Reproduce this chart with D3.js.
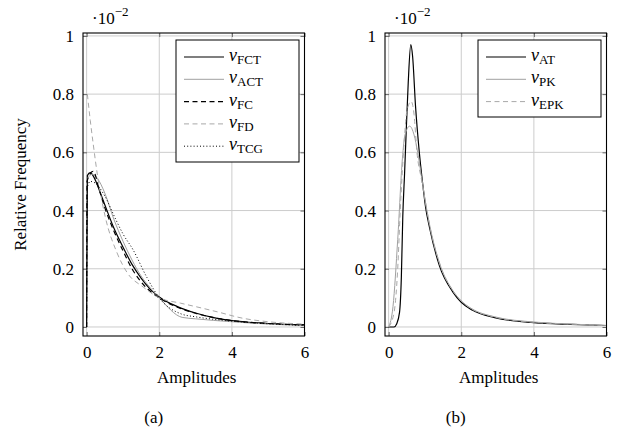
<!DOCTYPE html>
<html>
<head>
<meta charset="utf-8">
<script src="https://cdn.jsdelivr.net/npm/d3@7"></script>
<style>
  body { margin: 0; background: #fff; }
</style>
</head>
<body>
<svg id="container"></svg>
<script>
/* CONSTANTS AND GLOBALS */
const width = 618,
  height = 430,
  serif = "'Liberation Serif', 'Times New Roman', Times, serif";

/* DATA (relative frequency, in units of 10^-2) */
// panel (a)
const fctX = [0, 0.02, 0.1, 0.2, 0.35, 0.5, 0.75, 1.0, 1.25, 1.5, 1.75, 2.0, 2.5, 3.0, 3.5, 4.0, 5.0, 6.0];
const fctY = [0, 0.52, 0.53, 0.515, 0.47, 0.42, 0.34, 0.275, 0.215, 0.168, 0.13, 0.103, 0.07, 0.048, 0.032, 0.022, 0.012, 0.007];

const actX = [0.02, 0.15, 0.3, 0.5, 0.75, 1.0, 1.25, 1.5, 1.75, 2.0, 2.63, 3.0, 4.0, 5.0, 6.0];
const actY = [0.51, 0.525, 0.51, 0.46, 0.37, 0.295, 0.23, 0.175, 0.135, 0.1, 0.033, 0.028, 0.018, 0.01, 0.005];

const fcX = [0, 0.01, 0.18, 0.35, 0.5, 0.75, 1.0, 1.25, 1.5, 2.0, 2.5, 3.0, 4.0, 5.0, 6.0];
const fcY = [0, 0.5, 0.535, 0.47, 0.41, 0.33, 0.262, 0.2, 0.155, 0.1, 0.068, 0.047, 0.022, 0.012, 0.007];

const fdX = [0.02, 0.1, 0.18, 0.3, 0.51, 0.84, 1.12, 1.56, 2.0, 2.58, 3.0, 3.6, 4.3, 5.0, 6.0];
const fdY = [0.8, 0.71, 0.63, 0.52, 0.38, 0.254, 0.186, 0.137, 0.1, 0.082, 0.07, 0.052, 0.03, 0.018, 0.01];

const tcgX = [0, 0.02, 0.1, 0.23, 0.5, 0.8, 1.0, 1.28, 1.66, 2.0, 2.6, 3.0, 3.6, 4.5, 6.0];
const tcgY = [0, 0.48, 0.5, 0.495, 0.45, 0.37, 0.32, 0.265, 0.17, 0.1, 0.045, 0.035, 0.025, 0.015, 0.005];

// panel (b)
const atX = [0, 0.15, 0.22, 0.3, 0.35, 0.39, 0.44, 0.48, 0.54, 0.61, 0.66, 0.74, 0.845, 0.94, 1.02, 1.13, 1.4, 1.77, 2.0, 2.3, 2.92, 4.0, 5.0, 6.0];
const atY = [0, 0, 0.01, 0.05, 0.17, 0.38, 0.53, 0.66, 0.84, 0.97, 0.93, 0.76, 0.6, 0.49, 0.41, 0.34, 0.21, 0.12, 0.085, 0.058, 0.032, 0.015, 0.009, 0.005];

const pkX = [0, 0.12, 0.25, 0.38, 0.45, 0.58, 0.7, 0.8, 0.9, 1.0, 1.13, 1.4, 1.77, 2.0, 2.3, 2.92, 4.0, 5.0, 6.0];
const pkY = [0, 0.07, 0.3, 0.58, 0.66, 0.69, 0.66, 0.6, 0.52, 0.44, 0.35, 0.22, 0.125, 0.09, 0.062, 0.035, 0.017, 0.01, 0.005];

const epkX = [0, 0.15, 0.25, 0.32, 0.42, 0.5, 0.62, 0.7, 0.78, 0.9, 1.0, 1.13, 1.4, 1.77, 2.0, 2.3, 2.92, 4.0, 5.0, 6.0];
const epkY = [0, 0.05, 0.2, 0.4, 0.62, 0.74, 0.775, 0.73, 0.6, 0.51, 0.44, 0.35, 0.22, 0.124, 0.089, 0.061, 0.034, 0.016, 0.01, 0.005];

const xTicks = [0, 2, 4, 6];
const yTicks = [0, 0.2, 0.4, 0.6, 0.8, 1];

const seriesA = [
  { name: "FCT", xs: fctX, ys: fctY, color: "#000", width: 1.2, dash: null },
  { name: "ACT", xs: actX, ys: actY, color: "#a0a0a0", width: 1, dash: null },
  { name: "FC", xs: fcX, ys: fcY, color: "#000", width: 1.2, dash: "5,3.5" },
  { name: "FD", xs: fdX, ys: fdY, color: "#a8a8a8", width: 1, dash: "5,3.5" },
  { name: "TCG", xs: tcgX, ys: tcgY, color: "#000", width: 1, dash: "1,2.2" }
];
const seriesB = [
  { name: "AT", xs: atX, ys: atY, color: "#000", width: 1.2, dash: null },
  { name: "PK", xs: pkX, ys: pkY, color: "#a0a0a0", width: 1, dash: null },
  { name: "EPK", xs: epkX, ys: epkY, color: "#a8a8a8", width: 1, dash: "5,3.5" }
];

const svg = d3.select("#container")
  .attr("width", width)
  .attr("height", height)
  .attr("font-family", serif);

function drawPanel(left, series, legendBox, caption, showYLabel, id) {
  const top = 33, bottom = 336, right = left + 221.5;

  const xScale = d3.scaleLinear().domain([-0.1, 6]).range([left, right]);
  const yScale = d3.scaleLinear().domain([-0.031, 1.01]).range([bottom, top]);

  const g = svg.append("g");

  // grid
  g.append("g").selectAll("line").data(xTicks).join("line")
    .attr("x1", d => xScale(d)).attr("x2", d => xScale(d))
    .attr("y1", top).attr("y2", bottom)
    .attr("stroke", "#cccccc").attr("stroke-width", 1);
  g.append("g").selectAll("line").data(yTicks).join("line")
    .attr("x1", left).attr("x2", right)
    .attr("y1", d => yScale(d)).attr("y2", d => yScale(d))
    .attr("stroke", "#cccccc").attr("stroke-width", 1);

  // axes with inward ticks on all sides
  const tl = 4;
  g.append("g").attr("transform", `translate(0,${bottom})`)
    .call(d3.axisBottom(xScale).tickValues(xTicks).tickSize(-tl).tickPadding(10).tickFormat(d3.format("d")))
    .call(a => a.select(".domain").remove());
  g.append("g").attr("transform", `translate(0,${top})`)
    .call(d3.axisTop(xScale).tickValues(xTicks).tickSize(-tl).tickFormat(""))
    .call(a => a.select(".domain").remove());
  g.append("g").attr("transform", `translate(${left},0)`)
    .call(d3.axisLeft(yScale).tickValues(yTicks).tickSize(-tl).tickPadding(9).tickFormat(d => d === 0 || d === 1 ? d3.format("d")(d) : d3.format(".1f")(d)))
    .call(a => a.select(".domain").remove());
  g.append("g").attr("transform", `translate(${right},0)`)
    .call(d3.axisRight(yScale).tickValues(yTicks).tickSize(-tl).tickFormat(""))
    .call(a => a.select(".domain").remove());
  g.selectAll(".tick line").attr("stroke", "#666").attr("stroke-width", 1);
  g.selectAll("g").filter(function () { return this.hasAttribute("font-family"); })
    .attr("font-family", serif);
  g.selectAll(".tick text")
    .style("font-family", serif)
    .style("font-size", "17px").attr("fill", "#000");

  // clip
  svg.append("clipPath").attr("id", id)
    .append("rect").attr("x", left).attr("y", top).attr("width", right - left).attr("height", bottom - top);

  const line = d3.line()
    .x(d => xScale(d[0]))
    .y(d => yScale(d[1]))
    .curve(d3.curveMonotoneX);

  g.append("g").attr("clip-path", `url(#${id})`)
    .selectAll("path").data(series).join("path")
    .attr("d", s => line(s.xs.map((x, i) => [x, s.ys[i]])))
    .attr("fill", "none")
    .attr("stroke", s => s.color)
    .attr("stroke-width", s => s.width)
    .attr("stroke-dasharray", s => s.dash);

  // frame
  g.append("rect")
    .attr("x", left).attr("y", top).attr("width", right - left).attr("height", bottom - top)
    .attr("fill", "none").attr("stroke", "#000").attr("stroke-width", 1.1);

  // scale note
  const note = g.append("text").attr("x", left + 9).attr("y", 24)
    .style("font-family", serif).style("font-size", "17px");
  note.append("tspan").text("·10");
  note.append("tspan").attr("dy", -8).style("font-size", "13px").text("−2");

  // legend
  const lg = g.append("g");
  const lx = right - 128.5, ly = 40;
  lg.append("rect")
    .attr("x", lx).attr("y", ly).attr("width", legendBox.w).attr("height", legendBox.h)
    .attr("fill", "#fff").attr("stroke", "#000").attr("stroke-width", 1);
  series.forEach((s, i) => {
    const yy = ly + 17 + i * 22.3;
    lg.append("line")
      .attr("x1", lx + 8).attr("x2", lx + 48).attr("y1", yy).attr("y2", yy)
      .attr("stroke", s.color).attr("stroke-width", s.width).attr("stroke-dasharray", s.dash);
    const t = lg.append("text").attr("x", lx + 53).attr("y", yy + 4)
      .style("font-family", serif).style("font-size", "18px");
    t.append("tspan").style("font-style", "italic").text("v");
    t.append("tspan").attr("dy", 3).style("font-size", "13px").text(s.name);
  });

  // labels
  g.append("text")
    .attr("x", (left + right) / 2 + 3).attr("y", 383)
    .attr("text-anchor", "middle").style("font-family", serif).style("font-size", "17px").text("Amplitudes");
  g.append("text")
    .attr("x", (left + right) / 2 - 40).attr("y", 423)
    .attr("text-anchor", "middle").style("font-family", serif).style("font-size", "17px").text(caption);
  if (showYLabel) {
    g.append("text")
      .attr("transform", `translate(26,${(top + bottom) / 2}) rotate(-90)`)
      .attr("text-anchor", "middle").style("font-family", serif).style("font-size", "17px").text("Relative Frequency");
  }
}

drawPanel(83, seriesA, { w: 123, h: 122 }, "(a)", true, "clipA");
drawPanel(385, seriesB, { w: 123, h: 77 }, "(b)", false, "clipB");
</script>
</body>
</html>
